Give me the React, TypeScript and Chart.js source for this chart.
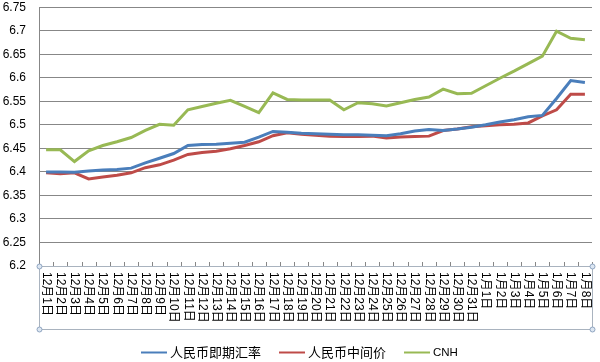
import React, { useEffect, useRef } from "react";
import { Chart, registerables } from "chart.js";

Chart.register(...registerables);

const categories: string[] = [
  "12月1日", "12月2日", "12月3日", "12月4日", "12月5日", "12月6日", "12月7日", "12月8日",
  "12月9日", "12月10日", "12月11日", "12月12日", "12月13日", "12月14日", "12月15日", "12月16日",
  "12月17日", "12月18日", "12月19日", "12月20日", "12月21日", "12月22日", "12月23日", "12月24日",
  "12月25日", "12月26日", "12月27日", "12月28日", "12月29日", "12月30日", "12月31日",
  "1月1日", "1月2日", "1月3日", "1月4日", "1月5日", "1月6日", "1月7日", "1月8日",
];

const spotRate: number[] = [
  6.400, 6.400, 6.399, 6.402, 6.404, 6.405, 6.408, 6.419, 6.429, 6.439,
  6.456, 6.458, 6.459, 6.461, 6.463, 6.474, 6.486, 6.484, 6.482, 6.481,
  6.480, 6.479, 6.479, 6.478, 6.477, 6.481, 6.487, 6.490, 6.488, 6.491,
  6.495, 6.500, 6.506, 6.511, 6.517, 6.520, 6.556, 6.594, 6.590,
];

const centralParity: number[] = [
  6.398, 6.396, 6.398, 6.385, 6.389, 6.393, 6.398, 6.409, 6.415, 6.425,
  6.437, 6.441, 6.444, 6.449, 6.456, 6.464, 6.477, 6.483, 6.480, 6.478,
  6.476, 6.475, 6.475, 6.476, 6.472, 6.474, 6.475, 6.476, 6.488, 6.491,
  6.496, 6.498, 6.500, 6.501, 6.504, 6.519, 6.532, 6.565, 6.565,
];

const cnh: number[] = [
  6.447, 6.447, 6.422, 6.445, 6.456, 6.464, 6.473, 6.488, 6.501, 6.499,
  6.532, 6.539, 6.546, 6.552, 6.539, 6.526, 6.568, 6.554, 6.553, 6.553,
  6.553, 6.532, 6.547, 6.545, 6.540, 6.547, 6.554, 6.559, 6.576, 6.566,
  6.567, 6.583, 6.599, 6.614, 6.630, 6.646, 6.699, 6.684, 6.681,
];

const seriesNames: string[] = ["人民币即期汇率", "人民币中间价", "CNH"];
const seriesColors: string[] = ["#4a7ebb", "#be4b48", "#98b954"];
const yTicks: number[] = [6.2, 6.25, 6.3, 6.35, 6.4, 6.45, 6.5, 6.55, 6.6, 6.65, 6.7, 6.75];

const FONT = '"Liberation Sans", "Noto Sans CJK SC", sans-serif';
const GRID = "#878787";

const decorPlugin = {
  id: "decor",
  afterDraw(chart: any) {
    const { ctx, scales, chartArea } = chart;
    const xs = scales.x;
    ctx.save();
    const top = xs.top;

    // inward tick marks at category boundaries
    ctx.strokeStyle = GRID;
    ctx.lineWidth = 1;
    ctx.beginPath();
    for (let i = 0; i <= categories.length; i++) {
      const bx = Math.round(xs.getPixelForValue(i - 0.5)) + 0.5;
      ctx.moveTo(bx, top - 4);
      ctx.lineTo(bx, top);
    }
    ctx.stroke();

    // selection frame around the category axis
    const bottom = top + 63;
    ctx.strokeStyle = "#a9b3bf";
    ctx.strokeRect(chartArea.left + 0.5, top + 0.5, chartArea.right - chartArea.left, bottom - top);
    const corners = [
      [chartArea.left, top], [chartArea.left, bottom], [chartArea.right, top], [chartArea.right, bottom],
    ];
    corners.forEach(([cx, cy]) => {
      ctx.beginPath();
      ctx.arc(cx + 0.5, cy + 0.5, 2.5, 0, Math.PI * 2);
      ctx.fillStyle = "#dce6f2";
      ctx.fill();
      ctx.strokeStyle = "#8ea4bf";
      ctx.stroke();
    });

    // rotated category labels (reading top to bottom)
    ctx.fillStyle = "#000";
    ctx.font = `12px ${FONT}`;
    ctx.textAlign = "left";
    ctx.textBaseline = "middle";
    categories.forEach((lab, i) => {
      const x = xs.getPixelForValue(i);
      ctx.save();
      ctx.translate(x, top + 6);
      ctx.rotate(Math.PI / 2);
      ctx.fillText(lab, 0, 0);
      ctx.restore();
    });

    // legend
    const lineLen = 26;
    const gapText = 3;
    const gapItem = 18;
    const items = chart.data.datasets.map((ds: any) => {
      const ascii = /^[\x00-\x7f]*$/.test(ds.label);
      const font = ascii ? `11.5px ${FONT}` : `13px ${FONT}`;
      ctx.font = font;
      return { label: ds.label, color: ds.borderColor, font, w: ctx.measureText(ds.label).width };
    });
    const total = items.reduce((s: number, it: any) => s + lineLen + gapText + it.w, 0) + gapItem * (items.length - 1);
    let x = Math.round((chart.width - total) / 2) - 1;
    const y = 353;
    items.forEach((it: any) => {
      ctx.strokeStyle = it.color;
      ctx.lineWidth = 2;
      ctx.beginPath();
      ctx.moveTo(x, y - 0.5);
      ctx.lineTo(x + lineLen, y - 0.5);
      ctx.stroke();
      x += lineLen + gapText;
      ctx.fillStyle = "#000";
      ctx.font = it.font;
      ctx.textAlign = "left";
      ctx.textBaseline = "middle";
      ctx.fillText(it.label, x, y);
      x += it.w + gapItem;
    });
    ctx.restore();
  },
};

export default function App() {
  const ref = useRef<HTMLCanvasElement | null>(null);

  useEffect(() => {
    if (!ref.current) return;
    const mk = (i: number, data: number[]) => ({
      label: seriesNames[i],
      data,
      borderColor: seriesColors[i],
      backgroundColor: seriesColors[i],
      borderWidth: 3,
      pointRadius: 0,
      tension: 0,
    });
    const chart = new Chart(ref.current, {
      type: "line",
      data: {
        labels: categories,
        datasets: [mk(0, spotRate), mk(1, centralParity), mk(2, cnh)],
      },
      options: {
        animation: false,
        responsive: false,
        maintainAspectRatio: false,
        layout: { padding: { top: 2, right: 8, left: 0, bottom: 0 } },
        plugins: {
          tooltip: { enabled: false },
          legend: { display: false },
        },
        scales: {
          x: {
            type: "category",
            offset: true,
            grid: { display: false },
            border: { display: true, color: GRID },
            ticks: { display: false, autoSkip: false },
            afterFit: (scale: any) => {
              scale.height = 96;
            },
          },
          y: {
            type: "linear",
            min: 6.2,
            max: 6.75,
            afterBuildTicks: (scale: any) => {
              scale.ticks = yTicks.map((v) => ({ value: v }));
            },
            grid: { color: GRID, drawTicks: true, tickLength: 13, tickColor: "rgba(0,0,0,0)" },
            border: { color: GRID },
            ticks: {
              padding: 0,
              color: "#000",
              font: { size: 12, family: FONT },
              callback: (v: any) => String(Number(Number(v).toFixed(2))),
            },
            afterFit: (scale: any) => {
              scale.width = 39;
            },
          },
        },
      },
      plugins: [decorPlugin],
    });
    return () => chart.destroy();
  }, []);

  return (
    <div style={{ position: "fixed", left: 0, top: 0, width: 600, height: 362, background: "#fff" }}>
      <canvas ref={ref} width={600} height={362} style={{ display: "block" }} />
    </div>
  );
}
